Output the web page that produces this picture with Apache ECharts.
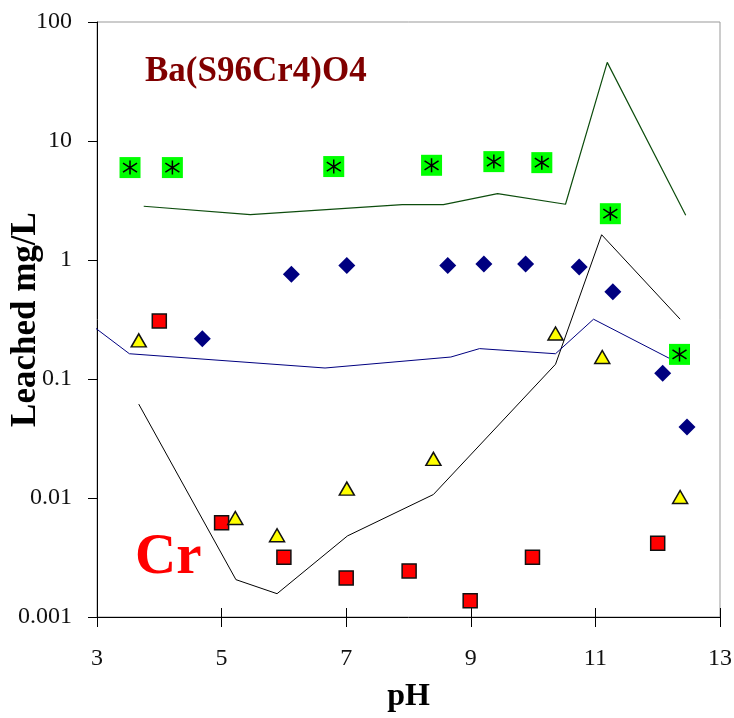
<!DOCTYPE html>
<html>
<head>
<meta charset="utf-8">
<script src="https://cdn.jsdelivr.net/npm/echarts@6/dist/echarts.min.js"></script>
<style>
  html, body { margin: 0; padding: 0; background: #fff; }
  #chart { width: 734px; height: 718px; }
</style>
</head>
<body>
<div id="chart"></div>
<script>
// Leached concentration (mg/L) versus pH for Ba(S96Cr4)O4

// Measured Ba (green squares with asterisk)
const baPH = [3.53, 4.21, 6.80, 8.37, 9.37, 10.14, 11.24, 12.35];
const baVal = [5.98, 5.98, 6.1, 6.25, 6.71, 6.58, 2.45, 0.161];

// Measured S (navy diamonds)
const sPH = [4.69, 6.12, 7.01, 8.63, 9.21, 9.88, 10.74, 11.28, 12.08, 12.47];
const sVal = [0.218, 0.758, 0.897, 0.897, 0.925, 0.925, 0.874, 0.542, 0.112, 0.0395];

// Measured Cr (red squares)
const crPH = [4.0, 5.0, 6.0, 7.0, 8.01, 8.99, 9.99, 12.0];
const crVal = [0.307, 0.0062, 0.00318, 0.00213, 0.00244, 0.00137, 0.00318, 0.00416];

// Measured Cr, second set (yellow triangles)
const cr2PH = [3.67, 5.22, 5.89, 7.01, 8.40, 10.36, 11.11, 12.36];
const cr2Val = [0.211, 0.00679, 0.00486, 0.012, 0.0213, 0.241, 0.153, 0.0102];

// Model curves
const baLinePH = [3.75, 5.46, 7.90, 8.56, 9.43, 10.52, 11.19, 12.45];
const baLineVal = [2.83, 2.41, 2.92, 2.92, 3.61, 2.94, 45.8, 2.38];

const crLinePH = [3.67, 5.23, 5.89, 7.02, 8.40, 10.36, 11.10, 12.36];
const crLineVal = [0.0615, 0.00206, 0.00157, 0.0048, 0.0107, 0.133, 1.63, 0.318];

const sLinePH = [2.88, 3.52, 6.66, 8.68, 9.14, 10.36, 10.97, 12.20];
const sLineVal = [0.292, 0.163, 0.1237, 0.153, 0.18, 0.163, 0.318, 0.148];

// Axis ticks
const xTicks = { min: 3, max: 13, interval: 2 };
const yTicks = { min: 0.001, max: 100 };

const pairs = (xs, ys) => xs.map((x, i) => [x, ys[i]]);

const SERIF = '"Liberation Serif", "Times New Roman", serif';
const asterisk = 'path://M7,0 L7,14 M1,2.5 L13,11.5 M13,2.5 L1,11.5';

const chart = echarts.init(document.getElementById('chart'));

chart.setOption({
  backgroundColor: '#ffffff',
  animation: false,
  grid: {
    left: 97, right: 14, top: 22, bottom: 101,
    outerBoundsMode: 'none', containLabel: false,
    show: true, borderColor: '#999999', borderWidth: 1, backgroundColor: 'transparent'
  },
  xAxis: [
    {
      type: 'value', min: xTicks.min, max: xTicks.max, interval: xTicks.interval,
      name: 'pH', nameLocation: 'middle', nameGap: 64, nameMoveOverlap: false,
      nameTextStyle: { fontFamily: SERIF, fontWeight: 'bold', fontSize: 32, color: '#000' },
      axisLine: { show: true, lineStyle: { color: '#000', width: 1 } },
      axisTick: { show: true, inside: false, length: 10, lineStyle: { color: '#000' } },
      axisLabel: { fontFamily: SERIF, fontSize: 24, color: '#111', margin: 30 },
      splitLine: { show: false }
    },
    {
      type: 'value', min: xTicks.min, max: xTicks.max, interval: xTicks.interval,
      position: 'bottom',
      axisLine: { show: false },
      axisTick: { show: true, inside: true, length: 9, lineStyle: { color: '#000' } },
      axisLabel: { show: false },
      splitLine: { show: false }
    }
  ],
  yAxis: {
    type: 'log', logBase: 10, min: yTicks.min, max: yTicks.max,
    name: 'Leached mg/L', nameLocation: 'middle', nameGap: 54, nameRotate: 90,
    nameMoveOverlap: false,
    nameTextStyle: { fontFamily: SERIF, fontWeight: 'bold', fontSize: 35, color: '#000' },
    axisLine: { show: true, lineStyle: { color: '#000', width: 1 } },
    axisTick: { show: true, inside: false, length: 9, lineStyle: { color: '#000' } },
    axisLabel: {
      fontFamily: SERIF, fontSize: 24, color: '#111', margin: 25,
      formatter: v => String(parseFloat(Number(v).toPrecision(3)))
    },
    splitLine: { show: false },
    minorTick: { show: false }
  },
  graphic: [
    {
      type: 'text', left: 145, top: 54, z: 10,
      style: { text: 'Ba(S96Cr4)O4', font: 'bold 35px ' + SERIF, fill: '#800000' }
    },
    {
      type: 'text', left: 135, top: 530, z: 10,
      style: { text: 'Cr', font: 'bold 57px ' + SERIF, fill: '#ff0000' }
    }
  ],
  series: [
    {
      name: 'Ba model', type: 'line', data: pairs(baLinePH, baLineVal),
      showSymbol: false, symbol: 'none',
      lineStyle: { color: '#0d4d0d', width: 1.2 }, z: 2
    },
    {
      name: 'Cr model', type: 'line', data: pairs(crLinePH, crLineVal),
      showSymbol: false, symbol: 'none',
      lineStyle: { color: '#000000', width: 1 }, z: 2
    },
    {
      name: 'S model', type: 'line', data: pairs(sLinePH, sLineVal),
      showSymbol: false, symbol: 'none', clip: false,
      lineStyle: { color: '#000080', width: 1 }, z: 2
    },
    {
      name: 'S', type: 'scatter', data: pairs(sPH, sVal),
      symbol: 'diamond', symbolSize: 17,
      itemStyle: { color: '#000080', opacity: 1 }, z: 3
    },
    {
      name: 'Cr', type: 'scatter', data: pairs(crPH, crVal),
      symbol: 'rect', symbolSize: 14,
      itemStyle: { color: '#ff0000', borderColor: '#111', borderWidth: 1.5, opacity: 1 }, z: 3
    },
    {
      name: 'Cr (2)', type: 'scatter', data: pairs(cr2PH, cr2Val),
      symbol: 'triangle', symbolSize: [15, 13],
      itemStyle: { color: '#ffff00', borderColor: '#111', borderWidth: 1.5, opacity: 1 }, z: 3
    },
    {
      name: 'Ba', type: 'scatter', data: pairs(baPH, baVal),
      symbol: 'rect', symbolSize: 21,
      itemStyle: { color: '#00ff00', opacity: 1 }, z: 4
    },
    {
      name: 'Ba mark', type: 'scatter', data: pairs(baPH, baVal),
      symbol: asterisk, symbolSize: 14,
      itemStyle: { color: 'rgba(0,0,0,0)', borderColor: '#000', borderWidth: 1.5, opacity: 1 }, z: 5
    }
  ]
});
</script>
</body>
</html>
